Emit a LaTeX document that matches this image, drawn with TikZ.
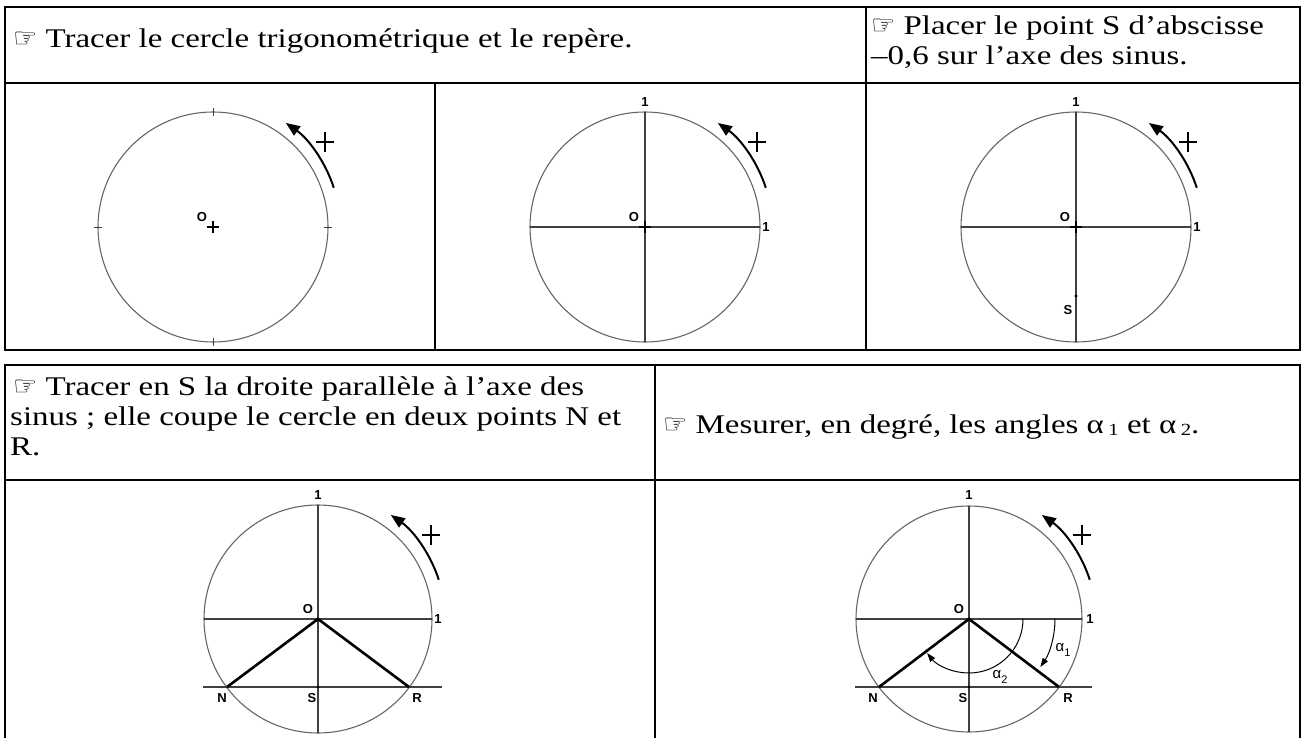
\documentclass[tikz,border=0pt]{standalone}
\usepackage{fontspec}
\setmainfont{Liberation Serif}[FakeStretch=1.22]
\newfontfamily\lblfont{Liberation Sans}
\newfontfamily\handfont{DejaVu Sans}
\usetikzlibrary{arrows.meta,calc}
\tikzset{
  border/.style={line width=2.5pt, black},
  circ/.style={line width=1.1pt, black!60},
  axis/.style={line width=1.1pt, black!75},
  thickseg/.style={line width=2.6pt, black},
  lbl/.style={font=\lblfont\fontsize{13}{13}\selectfont\bfseries, inner sep=0pt},
  hdr/.style={font=\fontsize{27}{30}\selectfont, inner sep=0pt, anchor=base west},
  plusarrow/.style={line width=2pt, -{Triangle[length=14pt,width=11pt]}},
  anglearrow/.style={line width=1pt, -{Triangle[length=9pt,width=6pt]}},
}
\newcommand{\hand}{{\handfont\fontsize{27}{27}\selectfont ☞}}
\newcommand{\plussign}[1]{\draw[line width=2pt] ($(#1)+(-9,0)$) -- ($(#1)+(9,0)$) ($(#1)+(0,-10)$) -- ($(#1)+(0,10)$);}
\newcommand{\plusarc}[1]{\draw[plusarrow] ($(#1)+(-18:127)$) arc[start angle=-18, end angle=-55, radius=127];}
\begin{document}
\begin{tikzpicture}[x=1pt,y=-1pt]
\useasboundingbox (0,0) rectangle (1304,738);
\fill[white] (0,0) rectangle (1304,738);
% ---------- table 1 ----------
\draw[border] (5,7) rectangle (1300,350);
\draw[border] (5,83) -- (1300,83);
\draw[border] (866,7) -- (866,350);
\draw[border] (435,83) -- (435,350);
\node[hdr] (h1) at (13,48) {\hand\ Tracer le cercle trigonométrique et le repère.};
\node[hdr] (h2) at (871,35) {\hand\ Placer le point S d'abscisse};
\node[hdr] (h3) at (871,65) {–0,6 sur l'axe des sinus.};
% ---------- table 2 ----------
\draw[border] (5,365) rectangle (1300,740);
\draw[border] (5,480) -- (1300,480);
\draw[border] (655,365) -- (655,740);
\node[hdr] (h4) at (13,395) {\hand\ Tracer en S la droite parallèle à l'axe des};
\node[hdr] (h5) at (10,425) {sinus ; elle coupe le cercle en deux points N et};
\node[hdr] (h6) at (10,455) {R.};
\node[hdr] (h7) at (663,433) {\hand\ Mesurer, en degré, les angles α\,{\fontsize{17}{17}\selectfont\raisebox{-0.3ex}{1}} et α\,{\fontsize{17}{17}\selectfont\raisebox{-0.3ex}{2}}.};
% ---------- circle 1 ----------
\coordinate (O1) at (213,227);
\draw[circ] (O1) circle[radius=115];
\foreach \a in {0,90,180,270} \draw[axis,line width=0.8pt] ($(O1)+(\a:111)$) -- ($(O1)+(\a:119)$);
\draw[line width=1.4pt] ($(O1)+(-6,0)$) -- ($(O1)+(6,0)$) ($(O1)+(0,-6)$) -- ($(O1)+(0,6)$);
\node[lbl] (o1) at (202,217) {O};
\plusarc{O1}
\plussign{325,142}
% ---------- circle 2 ----------
\coordinate (O2) at (645,227);
\draw[circ] (O2) circle[radius=115];
\draw[axis] ($(O2)+(-115,0)$) -- ($(O2)+(115,0)$);
\draw[axis] ($(O2)+(0,-115)$) -- ($(O2)+(0,115)$);
\draw[line width=1.6pt] ($(O2)+(-6,0)$) -- ($(O2)+(6,0)$) ($(O2)+(0,-6)$) -- ($(O2)+(0,6)$);
\node[lbl] (o2) at (634,217) {O};
\node[lbl] (one2a) at (645,102) {1};
\node[lbl] (one2b) at (766,227) {1};
\plusarc{O2}
\plussign{757,142}
% ---------- circle 3 ----------
\coordinate (O3) at (1076,227);
\draw[circ] (O3) circle[radius=115];
\draw[axis] ($(O3)+(-115,0)$) -- ($(O3)+(115,0)$);
\draw[axis] ($(O3)+(0,-115)$) -- ($(O3)+(0,115)$);
\draw[line width=1.6pt] ($(O3)+(-6,0)$) -- ($(O3)+(6,0)$) ($(O3)+(0,-6)$) -- ($(O3)+(0,6)$);
\node[lbl] (o3) at (1065,217) {O};
\node[lbl] (one3a) at (1076,102) {1};
\node[lbl] (one3b) at (1197,227) {1};
\coordinate (S3) at (1076,296);
\fill (S3) circle[radius=1.6];
\node[lbl] (s3) at (1068,310) {S};
\plusarc{O3}
\plussign{1188,142}
% ---------- circle 4 ----------
\coordinate (O4) at (318,619);
\coordinate (N4) at (227,687);
\coordinate (R4) at (409,687);
\coordinate (S4) at (318,687);
\draw[circ] (O4) circle[radius=114];
\draw[axis] ($(O4)+(-114,0)$) -- ($(O4)+(114,0)$);
\draw[axis] ($(O4)+(0,-114)$) -- ($(O4)+(0,114)$);
\draw[axis] ($(N4)+(-24,0)$) -- ($(R4)+(33,0)$);
\draw[thickseg] (N4) -- (O4) -- (R4);
\fill (S4) circle[radius=1.6];
\node[lbl] (o4) at (308,609) {O};
\node[lbl] (one4a) at (318,495) {1};
\node[lbl] (one4b) at (438,619) {1};
\node[lbl] (n4) at (222,698) {N};
\node[lbl] (s4) at (312,698) {S};
\node[lbl] (r4) at (417,698) {R};
\plusarc{O4}
\plussign{431,535}
% ---------- circle 5 ----------
\coordinate (O5) at (969,619);
\coordinate (N5) at (879,687);
\coordinate (R5) at (1059,687);
\coordinate (S5) at (969,687);
\draw[circ] (O5) circle[radius=113];
\draw[axis] ($(O5)+(-113,0)$) -- ($(O5)+(113,0)$);
\draw[axis] ($(O5)+(0,-113)$) -- ($(O5)+(0,113)$);
\draw[axis] ($(N5)+(-24,0)$) -- ($(R5)+(33,0)$);
\draw[thickseg] (N5) -- (O5) -- (R5);
\fill (S5) circle[radius=1.6];
\node[lbl] (o5) at (959,609) {O};
\node[lbl] (one5a) at (969,495) {1};
\node[lbl] (one5b) at (1090,619) {1};
\node[lbl] (n5) at (873,698) {N};
\node[lbl] (s5) at (963,698) {S};
\node[lbl] (r5) at (1068,698) {R};
\plusarc{O5}
\plussign{1082,535}
\draw[anglearrow] ($(O5)+(86,0)$) arc[start angle=0, end angle=34, radius=86];
\draw[anglearrow] ($(O5)+(54,0)$) arc[start angle=0, end angle=141, radius=54];
\node[lbl,font=\lblfont\fontsize{15}{15}\selectfont] (a1) at (1063,650) {α\raisebox{-0.6ex}{\fontsize{11}{11}\selectfont 1}};
\node[lbl,font=\lblfont\fontsize{15}{15}\selectfont] (a2) at (1000,677) {α\raisebox{-0.6ex}{\fontsize{11}{11}\selectfont 2}};
\end{tikzpicture}
\end{document}
